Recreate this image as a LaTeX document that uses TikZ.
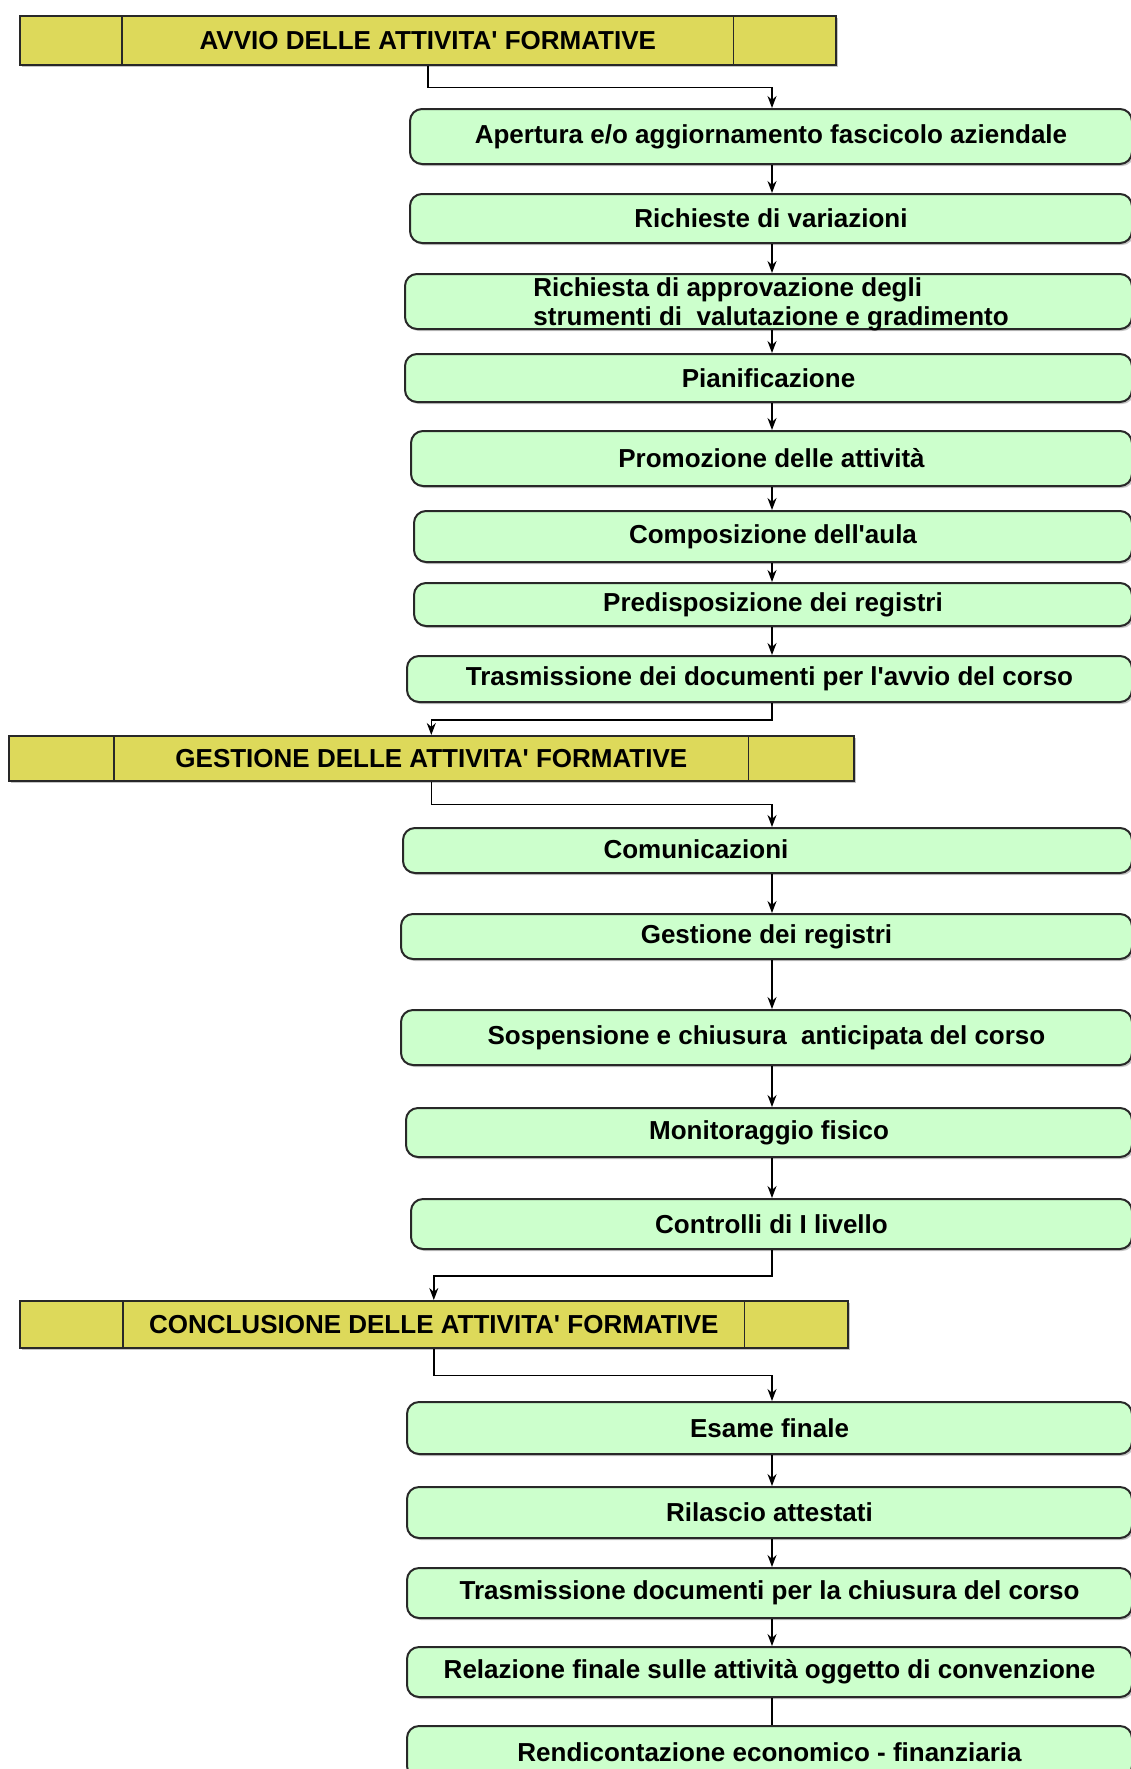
\documentclass[tikz,border=0pt]{standalone}
\usepackage{fontspec}
\setmainfont{Liberation Sans}
\usetikzlibrary{arrows.meta,shadows}
\definecolor{hdrfill}{RGB}{221,217,90}
\definecolor{grnfill}{RGB}{204,255,204}
\definecolor{edge}{RGB}{40,40,40}
\tikzset{
  gbox/.style={draw=edge, line width=1pt, fill=grnfill, rounded corners=6pt,
    inner sep=0pt, anchor=north west,
    font=\fontsize{13}{14.5}\selectfont\bfseries,
    drop shadow={shadow xshift=1pt, shadow yshift=-1pt, opacity=0.45, fill=gray}},
  hbox/.style={draw=edge, line width=0.8pt, fill=hdrfill, inner sep=0pt,
    anchor=north west, font=\fontsize{13}{14.5}\selectfont\bfseries,
    drop shadow={shadow xshift=1pt, shadow yshift=-1pt, opacity=0.45, fill=gray}},
  conn/.style={draw=black, line width=0.7pt},
  arr/.style={conn, -{Stealth[length=6pt,width=4.5pt]}}
}
\newcommand\gbx[6]{\node[gbox, minimum width=#4*0.5pt, minimum height=#5*0.5pt] (#1) at (#2,#3) {#6};}
\newcommand\hbx[5]{\node[hbox, minimum width=#4*0.5pt, minimum height=#5*0.5pt] (#1) at (#2,#3) {};}
\newcommand\hdiv[2]{\draw[draw=edge, line width=0.8pt] ([xshift=#2*0.5pt]#1.north west) -- ([xshift=#2*0.5pt]#1.south west);
  \draw[draw=edge, line width=0.8pt] ([xshift=-#2*0.5pt]#1.north east) -- ([xshift=-#2*0.5pt]#1.south east);}
\newcommand\sq{\textquotesingle}
\begin{document}
\begin{tikzpicture}[x=0.5pt,y=-0.5pt]
\useasboundingbox (0,0) rectangle (1131,1769);
\clip (0,0) rectangle (1131,1769);
\fill[white] (0,0) rectangle (1131,1769);
\coordinate (sp) at (772,0);

% header 1
\hbx{h1}{19}{15}{816}{49}
\hdiv{h1}{103}
\node[font=\fontsize{13}{14.5}\selectfont\bfseries] (t1) at (h1.center) {AVVIO DELLE ATTIVITA\sq{} FORMATIVE};

\gbx{b1}{409}{108}{722}{55}{Apertura e/o aggiornamento fascicolo aziendale}
\gbx{b2}{409}{193}{722}{49}{Richieste di variazioni}
\gbx{b3}{404}{273}{727}{55}{}
\node[font=\fontsize{13}{14.5}\selectfont\bfseries, align=left, anchor=west, inner sep=0pt] (t3) at (533,304) {Richiesta di approvazione degli\\strumenti di\ \ valutazione e gradimento};
\gbx{b4}{404}{353}{727}{48}{Pianificazione}
\gbx{b5}{410}{430}{721}{55}{Promozione delle attività}
\gbx{b6}{413}{510}{718}{51}{Composizione dell\sq{}aula}
\gbx{b7}{413}{582}{718}{43}{Predisposizione dei registri}
\gbx{b8}{406}{655}{725}{46}{Trasmissione dei documenti per l\sq{}avvio del corso}

% header 2
\hbx{h2}{8}{735}{845}{45}
\hdiv{h2}{106}
\node[font=\fontsize{13}{14.5}\selectfont\bfseries] (t2) at (h2.center) {GESTIONE DELLE ATTIVITA\sq{} FORMATIVE};

\gbx{b9}{402}{827}{729}{45}{}
\node[font=\fontsize{13}{14.5}\selectfont\bfseries] (t9) at (696,849.5) {Comunicazioni};
\gbx{b10}{400}{913}{731}{45}{Gestione dei registri}
\gbx{b11}{400}{1009}{731}{55}{Sospensione e chiusura\ \ anticipata del corso}
\gbx{b12}{405}{1107}{726}{49}{Monitoraggio fisico}
\gbx{b13}{410}{1198}{721}{50}{Controlli di I livello}

% header 3
\hbx{h3}{19}{1300}{828}{47}
\hdiv{h3}{104}
\node[font=\fontsize{13}{14.5}\selectfont\bfseries] (t3h) at (h3.center) {CONCLUSIONE DELLE ATTIVITA\sq{} FORMATIVE};

\gbx{b14}{406}{1401}{725}{52}{Esame finale}
\gbx{b15}{406}{1486}{725}{51}{Rilascio attestati}
\gbx{b16}{406}{1567}{725}{50}{Trasmissione documenti per la chiusura del corso}
\gbx{b17}{406}{1646}{725}{50}{Relazione finale sulle attività oggetto di convenzione}
\gbx{b18}{406}{1725}{725}{52}{Rendicontazione economico - finanziaria}

% connectors
\draw[arr] (h1.south) -- ++(0,22) -| (b1.north -| sp);
\draw[arr] (b1.south -| sp) -- (b2.north -| sp);
\draw[arr] (b2.south -| sp) -- (b3.north -| sp);
\draw[arr] (b3.south -| sp) -- (b4.north -| sp);
\draw[arr] (b4.south -| sp) -- (b5.north -| sp);
\draw[arr] (b5.south -| sp) -- (b6.north -| sp);
\draw[arr] (b6.south -| sp) -- (b7.north -| sp);
\draw[arr] (b7.south -| sp) -- (b8.north -| sp);
\draw[arr] (b8.south -| sp) -- ++(0,17) -| (h2.north);
\draw[arr] (h2.south) -- ++(0,23) -| (b9.north -| sp);
\draw[arr] (b9.south -| sp) -- (b10.north -| sp);
\draw[arr] (b10.south -| sp) -- (b11.north -| sp);
\draw[arr] (b11.south -| sp) -- (b12.north -| sp);
\draw[arr] (b12.south -| sp) -- (b13.north -| sp);
\draw[arr] (b13.south -| sp) -- ++(0,26) -| (h3.north);
\draw[arr] (h3.south) -- ++(0,27) -| (b14.north -| sp);
\draw[arr] (b14.south -| sp) -- (b15.north -| sp);
\draw[arr] (b15.south -| sp) -- (b16.north -| sp);
\draw[arr] (b16.south -| sp) -- (b17.north -| sp);
\draw[conn] (b17.south -| sp) -- (b18.north -| sp);
\end{tikzpicture}
\end{document}
